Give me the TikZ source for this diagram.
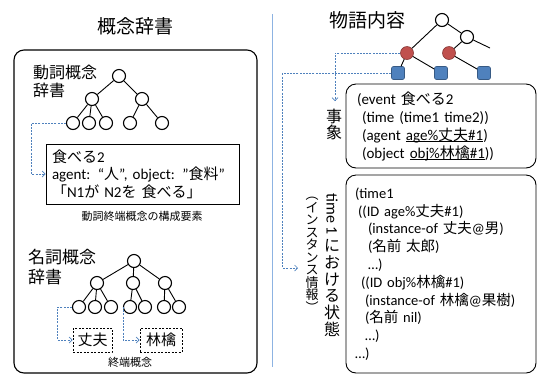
\documentclass[tikz,border=0pt]{standalone}
\usepackage{fontspec}
\setmainfont{Carlito}
\newfontfamily\jp{Noto Sans CJK JP}
\usetikzlibrary{arrows.meta}
\definecolor{dblue}{HTML}{4F81BD}
\definecolor{lblue}{HTML}{8DB3E2}
\definecolor{redc}{HTML}{C0504D}
\newcommand{\fs}[2]{\fontsize{#1}{#2}\selectfont}
\newcommand{\ulin}[1]{\setbox0\hbox{#1}\rlap{\rule[-2.2pt]{\wd0}{0.8pt}}\box0}
\begin{document}
\begin{tikzpicture}[x=1pt,y=-1pt,
  wc/.style={circle, draw, line width=1.1pt, minimum size=13pt, inner sep=0pt, fill=white},
  rc/.style={circle, draw=redc!70!black, line width=0.6pt, fill=redc, minimum size=13pt, inner sep=0pt},
  sq/.style={rectangle, rounded corners=2pt, draw=dblue!70!black, line width=0.6pt, fill=dblue, minimum size=13pt, inner sep=0pt},
  tedge/.style={line width=0.9pt},
  link/.style={dblue, dash pattern=on 2pt off 1.2pt, line width=0.7pt, -{Straight Barb[length=3pt,width=6pt]}},
  termbox/.style={draw, dash pattern=on 2pt off 1.5pt, line width=0.8pt, minimum height=24pt, inner sep=0pt, font=\jp\fs{15}{17}},
  caption/.style={font=\jp\fs{11}{13}, inner sep=0pt}
]
\useasboundingbox (0,0) rectangle (541,376);

% ---------- left: concept dictionary ----------
\node[font=\jp\fs{19}{21}] (title1) at (135,26) {概念辞書};
\node[draw, rounded corners=10pt, line width=1.1pt, minimum width=243pt, minimum height=323pt, inner sep=0pt] (lbox) at (135.5,211.5) {};

\node[anchor=west, inner sep=0pt, align=left, font=\jp\fs{16}{18}] (vlabel) at (33,81) {動詞概念\\辞書};

% verb tree
\node[wc] (v0) at (119,76) {};
\node[wc] (v1) at (92,99) {};
\node[wc] (v2) at (142,99) {};
\node[wc] (v11) at (73,123) {};
\node[wc] (v12) at (89,123) {};
\node[wc] (v13) at (106,123) {};
\node[wc] (v21) at (130,123) {};
\node[wc] (v22) at (162,123) {};
\foreach \a/\b in {v0/v1,v0/v2,v1/v11,v1/v12,v1/v13,v2/v21,v2/v22}
  \draw[tedge] (\a) -- (\b);

\node[draw, line width=0.8pt, minimum width=193pt, minimum height=60pt, inner sep=0pt,
      text width=181pt, align=left, font=\fs{15}{17.5}] (vbox) at (142.5,174)
  {{\jp 食べる}2\\
   agent: “{\jp 人}”, object: ”{\jp 食料}”\\
   {\jp 「}N1{\jp が} N2{\jp を 食べる」}};
\node[caption] (vcap) at (142,216) {動詞終端概念の構成要素};
\draw[link] (v11.west) -- ++(-34.5,0) |- (vbox.west);

\node[anchor=west, inner sep=0pt, align=left, font=\jp\fs{17}{20}] (nlabel) at (28,267) {名詞概念\\辞書};

% noun tree
\node[wc] (n0) at (134,261) {};
\node[wc] (n1) at (97,283) {};
\node[wc] (n2) at (133,283) {};
\node[wc] (n3) at (165,283) {};
\node[wc] (n11) at (79,307) {};
\node[wc] (n12) at (95,307) {};
\node[wc] (n13) at (111,307) {};
\node[wc] (n21) at (130,307) {};
\node[wc] (n22) at (145,307) {};
\node[wc] (n31) at (164,307) {};
\node[wc] (n32) at (179,307) {};
\foreach \a/\b in {n0/n1,n0/n2,n0/n3,n1/n11,n1/n12,n1/n13,n2/n21,n2/n22,n3/n31,n3/n32}
  \draw[tedge] (\a) -- (\b);

\node[termbox, minimum width=39pt] (jbox) at (92.5,340) {丈夫};
\node[termbox, minimum width=42pt] (rbox) at (161,340) {林檎};
\node[caption] (ncap) at (130,362) {終端概念};
\draw[link] (n11.west) -- ++(-14.5,0) |- (jbox.west);
\draw[link] (n21.west) |- (rbox.west);

% ---------- separator ----------
\draw[lblue, line width=1pt] (272,14) -- (272,367);

% ---------- right: story content ----------
\node[font=\jp\fs{19}{21}] (title2) at (367,20) {物語内容};

\node[wc] (w0) at (442,20) {};
\node[wc] (w1) at (467,37) {};
\node[rc] (r1) at (407,53) {};
\node[rc] (r2) at (449,53) {};
\node[sq] (s1) at (398,73) {};
\node[sq] (s2) at (441,73) {};
\node[sq] (s3) at (484,73) {};
\coordinate (stub) at (490,48);
\foreach \a/\b in {w0/r1,w0/w1,w1/r2,w1/stub,r1/s1,r1/s2,r2/s3}
  \draw[tedge] (\a) -- (\b);

\node[draw, rounded corners=10pt, line width=0.9pt, minimum width=190pt, minimum height=84pt,
      inner sep=0pt, text width=168pt, align=left, font=\fs{15}{18}] (ebox) at (441,126)
  {(event {\jp 食べる}2\\
   \hspace*{5pt}(time (time1 time2))\\
   \hspace*{5pt}(agent \ulin{age\%{\jp 丈夫}\#1})\\
   \hspace*{5pt}(object \ulin{obj\%{\jp 林檎}\#1}))};

\node[draw, rounded corners=10pt, line width=0.9pt, minimum width=190pt, minimum height=198pt,
      inner sep=0pt, text width=172pt, align=left, font=\fs{14.5}{17.8}] (tbox) at (441,274)
  {(time1\\
   \hspace*{3pt}((ID age\%{\jp 丈夫}\#1)\\
   \hspace*{13pt}(instance-of {\jp 丈夫}@{\jp 男})\\
   \hspace*{13pt}({\jp 名前 太郎})\\
   \hspace*{13pt}…)\\
   \hspace*{6pt}((ID obj\%{\jp 林檎}\#1)\\
   \hspace*{10pt}(instance-of {\jp 林檎}@{\jp 果樹})\\
   \hspace*{10pt}({\jp 名前} nil)\\
   \hspace*{10pt}…)\\
   …)};

% vertical labels
\node[inner sep=0pt, align=center, font=\jp\fs{16}{16}] (jishou) at (334,124) {事\\象};
\coordinate (jtop) at (335,101);
\draw[link] (r1.west) -| (jtop);

\node[inner sep=0pt, rotate=-90, font=\fs{16}{16}] (vt1) at (332,214) {time 1};
\node[inner sep=0pt, align=center, font=\jp\fs{16}{16.7}] (vt2) at (332,288) {に\\お\\け\\る\\状\\態};
\node[inner sep=0pt, align=center, font=\jp\fs{13}{12.5}] (vinst) at (312,255) {︵\\イ\\ン\\ス\\タ\\ン\\ス\\情\\報\\︶};
\coordinate (iarr) at (298,268);
\draw[link] (s1.west) -- ++(-108.5,0) |- (iarr);
\end{tikzpicture}
\end{document}
